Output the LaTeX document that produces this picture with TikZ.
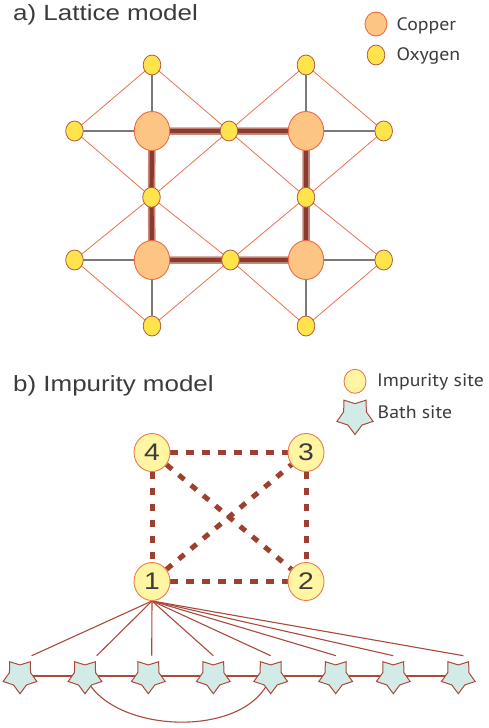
\documentclass[tikz,border=0pt]{standalone}
\usepackage{fontspec}
\setmainfont{Liberation Sans}
\newfontfamily\titlefont{Liberation Sans}[FakeStretch=1.18]
\newfontfamily\legendfont{PT Sans}[FakeStretch=1.1]
\usetikzlibrary{shapes.geometric,backgrounds}

\definecolor{cuFill}{HTML}{FDC584}
\definecolor{cuDraw}{HTML}{EE6A45}
\definecolor{oFill}{HTML}{FFE44C}
\definecolor{oDraw}{HTML}{B4593F}
\definecolor{thinRed}{HTML}{EE7050}
\definecolor{grayLink}{HTML}{7A7A7A}
\definecolor{bondCore}{HTML}{8C3A2C}
\definecolor{bondHalo}{HTML}{C48A7E}
\definecolor{impFill}{HTML}{FFF5A3}
\definecolor{impDraw}{HTML}{EE7A4A}
\definecolor{hopRed}{HTML}{9E4030}
\definecolor{starFill}{HTML}{D2EBE7}
\definecolor{starDraw}{HTML}{A84A3C}
\definecolor{textGray}{HTML}{3C3C3C}

\tikzset{
  cu/.style={ellipse, draw=cuDraw, fill=cuFill, line width=0.9pt,
             minimum width=35.5pt, minimum height=39pt, inner sep=0pt},
  ox/.style={ellipse, draw=oDraw, fill=oFill, line width=0.8pt,
             minimum width=17.6pt, minimum height=20pt, inner sep=0pt},
  imp/.style={ellipse, draw=impDraw, fill=impFill, line width=0.9pt,
              minimum width=36pt, minimum height=38pt, inner sep=0pt,
              text=textGray, font=\titlefont\fontsize{24}{24}\selectfont},
  bath/.style={star, star points=5, star point ratio=1.6,
               shape border rotate=180, draw=starDraw, fill=starFill,
               line width=1pt, minimum size=35.4pt, inner sep=0pt},
  thinlink/.style={draw=thinRed, line width=0.8pt},
  graylink/.style={draw=grayLink, line width=1.1pt},
  bondhalo/.style={draw=bondHalo, line width=7.5pt, line join=miter},
  bondcore/.style={draw=bondCore, line width=4.2pt, line join=miter},
  hop/.style={draw=hopRed, line width=5pt, dash pattern=on 7.3pt off 8.7pt},
  bathlink/.style={draw=starDraw, line width=1.1pt},
  headline/.style={anchor=base west, inner sep=0pt, text=textGray,
                   font=\titlefont\fontsize{22}{26}\selectfont},
  legtext/.style={anchor=base west, inner sep=0pt, text=textGray,
                  font=\legendfont\fontsize{18}{20}\selectfont}
}

\begin{document}
\begin{tikzpicture}[x=1pt,y=-1pt]
\useasboundingbox (0,0) rectangle (489,728);
\begin{scope}[on background layer]
  \fill[white] (0,0) rectangle (489,728);
\end{scope}

% ---------------- a) lattice model ----------------
\node[headline] (titleA) at (13,20.7) {a) Lattice model};

\node[cu, minimum width=22pt, minimum height=24pt] (cuL) at (376,24) {};
\node[legtext] (cuLabel) at (396.5,30.5) {Copper};
\node[ox] (oxL) at (376,55) {};
\node[legtext] (oxLabel) at (396.5,60.5) {Oxygen};

% copper sites
\node[cu] (c11) at (152,131) {};
\node[cu] (c12) at (306,131) {};
\node[cu] (c21) at (152,260) {};
\node[cu] (c22) at (306,260) {};

% oxygen sites
\node[ox] (oT1) at (152,65) {};
\node[ox] (oT2) at (306,65) {};
\node[ox] (oL1) at (74.5,131) {};
\node[ox] (oM1) at (229,131) {};
\node[ox] (oR1) at (383.7,131) {};
\node[ox] (oV1) at (151.5,197.3) {};
\node[ox] (oV2) at (306,197.3) {};
\node[ox] (oL2) at (74.5,260) {};
\node[ox] (oM2) at (230.5,260) {};
\node[ox] (oR2) at (383.7,260) {};
\node[ox] (oB1) at (152,326) {};
\node[ox] (oB2) at (306,326) {};

\begin{scope}[on background layer]
  % oxygen-oxygen hopping around each copper
  \draw[thinlink] (oT1.center) -- (oL1.center) -- (oV1.center) -- (oM1.center) -- cycle;
  \draw[thinlink] (oT2.center) -- (oM1.center) -- (oV2.center) -- (oR1.center) -- cycle;
  \draw[thinlink] (oV1.center) -- (oL2.center) -- (oB1.center) -- (oM2.center) -- cycle;
  \draw[thinlink] (oV2.center) -- (oM2.center) -- (oB2.center) -- (oR2.center) -- cycle;
  % copper-oxygen bonds outside the plaquette
  \draw[graylink] (c11.center) -- (oT1.center);
  \draw[graylink] (c11.center) -- (oL1.center);
  \draw[graylink] (c12.center) -- (oT2.center);
  \draw[graylink] (c12.center) -- (oR1.center);
  \draw[graylink] (c21.center) -- (oL2.center);
  \draw[graylink] (c21.center) -- (oB1.center);
  \draw[graylink] (c22.center) -- (oR2.center);
  \draw[graylink] (c22.center) -- (oB2.center);
  % the plaquette
  \draw[bondhalo] (c11.center) -- (oM1.center) -- (c12.center) -- (oV2.center)
     -- (c22.center) -- (oM2.center) -- (c21.center) -- (oV1.center) -- cycle;
  \draw[bondcore] (c11.center) -- (oM1.center) -- (c12.center) -- (oV2.center)
     -- (c22.center) -- (oM2.center) -- (c21.center) -- (oV1.center) -- cycle;
\end{scope}

% ---------------- b) impurity model ----------------
\node[headline] (titleB) at (13,391) {b) Impurity model};

\node[imp, minimum width=22pt, minimum height=24pt] (impL) at (355,381.3) {};
\node[legtext] (impLabel) at (377,386.7) {Impurity site};
\node[bath, minimum size=38pt] (bathL) at (355,415.5) {};
\node[legtext] (bathLabel) at (377.5,418) {Bath site};

\node[imp] (n4) at (152,452.5) {4};
\node[imp] (n3) at (306,452.5) {3};
\node[imp] (n1) at (152,581.5) {1};
\node[imp] (n2) at (306,581.5) {2};

\begin{scope}[on background layer]
  \draw[hop] (n4) -- (n3);
  \draw[hop] (n4) -- (n1);
  \draw[hop] (n3) -- (n2);
  \draw[hop] (n1) -- (n2);
  \draw[hop] (n4) -- (n2);
  \draw[hop] (n1) -- (n3);
\end{scope}

% bath sites
\node[bath] (s1) at (20,676) {};
\node[bath] (s2) at (85,676) {};
\node[bath] (s3) at (148.3,676) {};
\node[bath] (s4) at (213.3,676) {};
\node[bath] (s5) at (270.7,676) {};
\node[bath] (s6) at (335.7,676) {};
\node[bath] (s7) at (393.3,676) {};
\node[bath] (s8) at (458.3,676) {};

% ends of the hybridisation lines
\coordinate (e1) at (31.7,655.7);
\coordinate (e2) at (96.7,655.7);
\coordinate (e3) at (151.7,655.7);
\coordinate (e4) at (213.3,655.7);
\coordinate (e5) at (270.7,655.7);
\coordinate (e6) at (336,655.7);
\coordinate (e7) at (393.3,655.7);
\coordinate (e8) at (463.3,655.7);

\begin{scope}[on background layer]
  \foreach \k in {1,...,8} {\draw[bathlink] (n1.south) -- (e\k);}
  \draw[bathlink] (s1.center) -- (s8.center);
  \draw[bathlink] (s2.center) .. controls (110,735) and (250,740) .. (s5.center);
\end{scope}
\end{tikzpicture}
\end{document}
